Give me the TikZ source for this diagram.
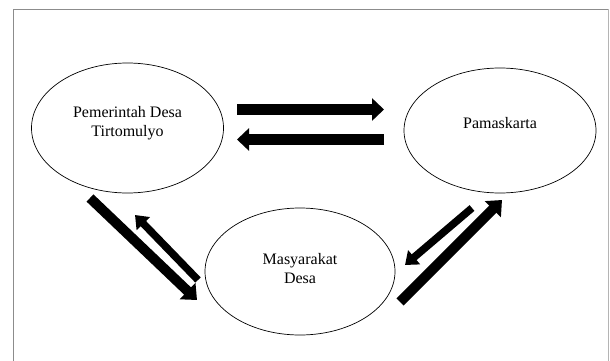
\documentclass[tikz,border=0pt]{standalone}
\usepackage{fontspec}
\setmainfont{Liberation Serif}
\usetikzlibrary{arrows.meta,shapes.geometric}
\definecolor{framegray}{HTML}{8C8C8C}
\definecolor{framelight}{HTML}{B4B4B4}

\tikzset{
  party/.style={draw=black,line width=0.7pt,ellipse,inner sep=0pt,align=center,
    minimum width=192pt,font=\fontsize{16}{19}\selectfont},
  flowwide/.style={line width=11pt,-{Triangle[length=12pt,width=22pt]}},
  flowmid/.style={line width=10pt,-{Triangle[length=13pt,width=22pt]}},
  flowthin/.style={line width=7.5pt,-{Triangle[length=12pt,width=18pt]}}
}

\begin{document}
\begin{tikzpicture}[x=1pt,y=-1pt]
  \useasboundingbox (0,0) rectangle (610,361);
  % outer frame
  \draw[framegray,line width=1.3pt] (13.3,372) -- (13.3,9.5) -- (608.5,9.5);
  \draw[framelight,line width=1.3pt] (608.5,9.5) -- (608.5,372);
  % the three parties
  \node[party,minimum height=130pt,text depth=14pt] (pemdes) at (127.5,128) {Pemerintah Desa\\Tirtomulyo};
  \node[party,minimum height=125pt,text depth=15pt] (pamas) at (500,130.5) {Pamaskarta};
  \node[party,minimum width=190pt,minimum height=127pt,text depth=7pt] (warga) at (300,271.5) {Masyarakat\\Desa};
  % arrow ends
  \coordinate (pemR) at (237,109.5);
  \coordinate (pamL) at (384,109.5);
  \coordinate (pamR) at (384,139.5);
  \coordinate (pemL) at (237,139.5);
  \coordinate (pemDa) at (90,198);
  \coordinate (wargaUa) at (197,300);
  \coordinate (wargaUb) at (198,280);
  \coordinate (pemDb) at (135,215);
  \coordinate (wargaRa) at (400,302);
  \coordinate (pamDa) at (502,200);
  \coordinate (pamDb) at (472,208);
  \coordinate (wargaRb) at (405,265);
  % flows
  \draw[flowwide] (pemR) -- (pamL);
  \draw[flowwide] (pamR) -- (pemL);
  \draw[flowmid] (pemDa) -- (wargaUa);
  \draw[flowthin] (wargaUb) -- (pemDb);
  \draw[flowmid] (wargaRa) -- (pamDa);
  \draw[flowthin] (pamDb) -- (wargaRb);
\end{tikzpicture}
\end{document}
